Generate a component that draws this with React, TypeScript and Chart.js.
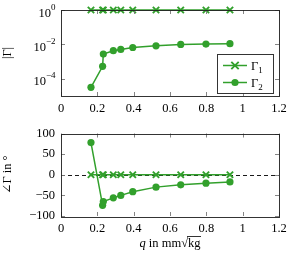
import React, { useEffect, useRef } from "react";
import { Chart, registerables } from "chart.js";

Chart.register(...registerables);

const q = [0.165, 0.229, 0.233, 0.288, 0.329, 0.395, 0.523, 0.659, 0.798, 0.93];
const mag1 = [1, 1, 1, 1, 1, 1, 1, 1, 1, 1];
const mag2 = [3.2e-5, 5.3e-4, 2.75e-3, 4.3e-3, 5.1e-3, 6.6e-3, 8.3e-3, 1.0e-2, 1.05e-2, 1.1e-2];
const phase1 = [0, 0, 0, 0, 0, 0, 0, 0, 0, 0];
const phase2 = [78, -74, -65, -56, -50, -41, -30, -24.5, -20.5, -17.5];
const xTicks = [0, 0.2, 0.4, 0.6, 0.8, 1, 1.2];
const magTicks = [1e-4, 1e-2, 1];
const magExp = ["−4", "−2", "0"];
const phaseTicks = [-100, -50, 0, 50, 100];
const seriesNames = ["Γ", "Γ"];
const seriesSubs = ["1", "2"];

const GREEN = "rgb(50,160,44)";
const FONT = "'Liberation Serif', 'DejaVu Serif', serif";
const FS = 12.5;

function drawFrame(chart: any, xs: number[], ys: number[]) {
  const ctx = chart.ctx;
  const a = chart.chartArea;
  const sx = chart.scales.x;
  const sy = chart.scales.y;
  ctx.save();
  ctx.strokeStyle = "rgba(120,120,120,0.9)";
  ctx.lineWidth = 1;
  ctx.beginPath();
  xs.forEach((v) => {
    const px = Math.round(sx.getPixelForValue(v)) + 0.5;
    ctx.moveTo(px, a.bottom);
    ctx.lineTo(px, a.bottom - 4);
    ctx.moveTo(px, a.top);
    ctx.lineTo(px, a.top + 4);
  });
  ys.forEach((v) => {
    const py = Math.round(sy.getPixelForValue(v)) + 0.5;
    ctx.moveTo(a.left, py);
    ctx.lineTo(a.left + 4, py);
    ctx.moveTo(a.right, py);
    ctx.lineTo(a.right - 4, py);
  });
  ctx.stroke();
  ctx.strokeStyle = "rgba(30,30,30,0.9)";
  ctx.lineWidth = 1;
  ctx.strokeRect(Math.round(a.left) + 0.5, Math.round(a.top) + 0.5, Math.round(a.right - a.left), Math.round(a.bottom - a.top));
  ctx.restore();
}

function drawMarker(ctx: any, kind: number, x: number, y: number) {
  ctx.save();
  ctx.strokeStyle = GREEN;
  ctx.fillStyle = GREEN;
  if (kind === 0) {
    ctx.lineWidth = 1.9;
    const r = 3.7;
    ctx.beginPath();
    ctx.moveTo(x - r, y - r);
    ctx.lineTo(x + r, y + r);
    ctx.moveTo(x - r, y + r);
    ctx.lineTo(x + r, y - r);
    ctx.stroke();
  } else {
    ctx.beginPath();
    ctx.arc(x, y, 3.6, 0, Math.PI * 2);
    ctx.fill();
  }
  ctx.restore();
}

const topPlugin = {
  id: "topDeco",
  afterDraw(chart: any) {
    const ctx = chart.ctx;
    const sy = chart.scales.y;
    drawFrame(chart, xTicks, magTicks);
    ctx.save();
    ctx.fillStyle = "#000";
    magTicks.forEach((v, i) => {
      const py = sy.getPixelForValue(v);
      ctx.font = `9px ${FONT}`;
      const ew = ctx.measureText(magExp[i]).width;
      ctx.textAlign = "right";
      ctx.textBaseline = "alphabetic";
      const right = 55.5;
      ctx.fillText(magExp[i], right, py - 0.5);
      ctx.font = `${FS}px ${FONT}`;
      ctx.fillText("10", right - ew, py + 6.5);
    });
    ctx.restore();
    const bx = 217.5, by = 54.5, bw = 56, bh = 39;
    ctx.save();
    ctx.fillStyle = "#fff";
    ctx.fillRect(bx, by, bw, bh);
    ctx.strokeStyle = "rgba(30,30,30,0.9)";
    ctx.lineWidth = 1;
    ctx.strokeRect(bx, by, bw, bh);
    const rows = [65.5, 82.5];
    rows.forEach((ry, i) => {
      ctx.strokeStyle = GREEN;
      ctx.lineWidth = 1.5;
      ctx.beginPath();
      ctx.moveTo(223, ry);
      ctx.lineTo(247, ry);
      ctx.stroke();
      drawMarker(ctx, i, 235, ry);
      ctx.fillStyle = "#000";
      ctx.textAlign = "left";
      ctx.textBaseline = "alphabetic";
      ctx.font = `${FS}px ${FONT}`;
      ctx.fillText(seriesNames[i], 251, ry + 4.5);
      const w = ctx.measureText(seriesNames[i]).width;
      ctx.font = `9px ${FONT}`;
      ctx.fillText(seriesSubs[i], 251 + w, ry + 7);
    });
    ctx.restore();
  },
};

const bottomPlugin = {
  id: "bottomDeco",
  beforeDatasetsDraw(chart: any) {
    const ctx = chart.ctx;
    const a = chart.chartArea;
    const py = Math.round(chart.scales.y.getPixelForValue(0)) + 0.5;
    ctx.save();
    ctx.strokeStyle = "#000";
    ctx.lineWidth = 0.9;
    ctx.setLineDash([4, 3]);
    ctx.beginPath();
    ctx.moveTo(a.left, py);
    ctx.lineTo(a.right, py);
    ctx.stroke();
    ctx.restore();
  },
  afterDraw(chart: any) {
    const ctx = chart.ctx;
    const a = chart.chartArea;
    drawFrame(chart, xTicks, phaseTicks);
    ctx.save();
    ctx.fillStyle = "#000";
    ctx.textBaseline = "alphabetic";
    ctx.textAlign = "left";
    const fItal = `italic ${FS}px ${FONT}`;
    const fReg = `${FS}px ${FONT}`;
    ctx.font = fItal;
    const wq = ctx.measureText("q").width;
    ctx.font = fReg;
    const wMid = ctx.measureText(" in mm").width;
    const wRoot = ctx.measureText("√").width;
    const wKg = ctx.measureText("kg").width;
    const total = wq + wMid + wRoot + wKg;
    let x = (a.left + a.right) / 2 - total / 2;
    const base = 127;
    ctx.font = fItal;
    ctx.fillText("q", x, base);
    x += wq;
    ctx.font = fReg;
    ctx.fillText(" in mm", x, base);
    x += wMid;
    ctx.fillText("√", x, base);
    x += wRoot;
    ctx.fillText("kg", x, base);
    ctx.strokeStyle = "#000";
    ctx.lineWidth = 0.8;
    ctx.beginPath();
    ctx.moveTo(x - 1, base - 10.5);
    ctx.lineTo(x + wKg + 0.5, base - 10.5);
    ctx.stroke();
    ctx.restore();
  },
};

function fmtX(v: number) {
  const r = Math.round(v * 10) / 10;
  return String(r);
}

function makeOptions(kind: "top" | "bottom") {
  const isTop = kind === "top";
  return {
    animation: false,
    responsive: false,
    devicePixelRatio: 1,
    layout: { padding: { left: 0, right: 14, top: 10, bottom: 0 } },
    plugins: { legend: { display: false }, tooltip: { enabled: false } },
    scales: {
      x: {
        type: "linear",
        min: 0,
        max: 1.2,
        grid: { display: false, drawTicks: false },
        border: { display: false },
        afterBuildTicks: (s: any) => {
          s.ticks = xTicks.map((v) => ({ value: v }));
        },
        ticks: {
          padding: 5,
          color: "#000",
          font: { family: FONT, size: FS },
          maxRotation: 0,
          autoSkip: false,
          callback: (v: any) => fmtX(Number(v)),
        },
        afterFit: (s: any) => {
          s.height = isTop ? 24 : 43;
        },
      },
      y: isTop
        ? {
            type: "logarithmic",
            min: 1e-5,
            max: 1,
            grid: { display: false, drawTicks: false },
            border: { display: false },
            afterBuildTicks: (s: any) => {
              s.ticks = magTicks.map((v) => ({ value: v }));
            },
            ticks: { display: false },
            title: {
              display: true,
              text: "|Γ|",
              color: "#000",
              font: { family: FONT, size: FS },
              padding: { top: 0, bottom: 0 },
            },
            afterFit: (s: any) => {
              s.width = 61;
            },
          }
        : {
            type: "linear",
            min: -100,
            max: 100,
            grid: { display: false, drawTicks: false },
            border: { display: false },
            afterBuildTicks: (s: any) => {
              s.ticks = phaseTicks.map((v) => ({ value: v }));
            },
            ticks: {
              padding: 6,
              color: "#000",
              font: { family: FONT, size: FS },
              callback: (v: any) => String(v).replace("-", "−"),
            },
            title: {
              display: true,
              text: "∠Γ in °",
              color: "#000",
              font: { family: FONT, size: FS },
              padding: { top: 0, bottom: 0 },
            },
            afterFit: (s: any) => {
              s.width = 61;
            },
          },
    },
  };
}

function makeDatasets(a: number[], b: number[]) {
  return [
    {
      label: "Γ1",
      data: q.map((x, i) => ({ x, y: a[i] })),
      borderColor: GREEN,
      backgroundColor: GREEN,
      borderWidth: 1.5,
      pointStyle: "crossRot",
      pointRadius: 4.5,
      pointBorderWidth: 1.9,
      pointBorderColor: GREEN,
      showLine: true,
      clip: false,
      tension: 0,
    },
    {
      label: "Γ2",
      data: q.map((x, i) => ({ x, y: b[i] })),
      borderColor: GREEN,
      backgroundColor: GREEN,
      borderWidth: 1.5,
      pointStyle: "circle",
      pointRadius: 3.6,
      pointBorderWidth: 0,
      pointBackgroundColor: GREEN,
      showLine: true,
      clip: false,
      tension: 0,
    },
  ];
}

export default function App() {
  const topRef = useRef<HTMLCanvasElement>(null);
  const botRef = useRef<HTMLCanvasElement>(null);

  useEffect(() => {
    const c1 = new Chart(topRef.current as HTMLCanvasElement, {
      type: "scatter",
      data: { datasets: makeDatasets(mag1, mag2) as any },
      options: makeOptions("top") as any,
      plugins: [topPlugin],
    });
    const c2 = new Chart(botRef.current as HTMLCanvasElement, {
      type: "scatter",
      data: { datasets: makeDatasets(phase1, phase2) as any },
      options: makeOptions("bottom") as any,
      plugins: [bottomPlugin],
    });
    return () => {
      c1.destroy();
      c2.destroy();
    };
  }, []);

  return (
    <div style={{ position: "fixed", left: 0, top: 0, width: 293, height: 259, background: "#fff" }}>
      <canvas ref={topRef} width={293} height={120} style={{ position: "absolute", left: 0, top: 0, width: 293, height: 120 }} />
      <canvas ref={botRef} width={293} height={139} style={{ position: "absolute", left: 0, top: 120, width: 293, height: 139 }} />
    </div>
  );
}
